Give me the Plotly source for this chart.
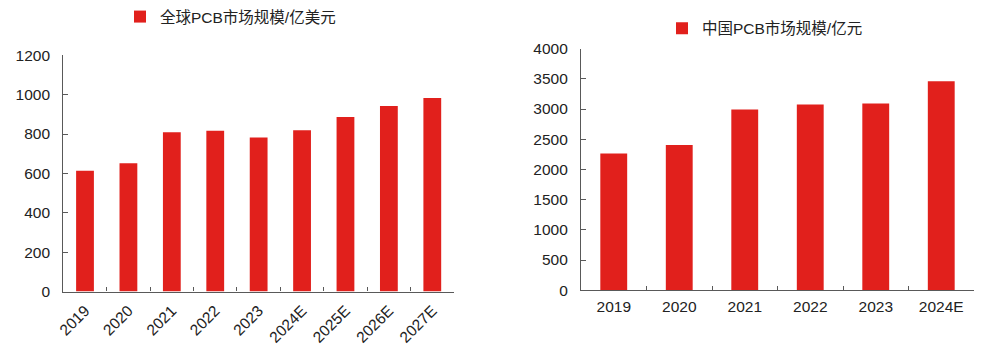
import plotly.graph_objects as go

# Global PCB market (100M USD)
global_years = ["2019", "2020", "2021", "2022", "2023", "2024E", "2025E", "2026E", "2027E"]
global_values = [613, 652, 809, 817, 783, 819, 886, 943, 983]
global_name = "全球PCB市场规模/亿美元"

# China PCB market (100M CNY)
china_years = ["2019", "2020", "2021", "2022", "2023", "2024E"]
china_values = [2263, 2405, 2993, 3074, 3091, 3461]
china_name = "中国PCB市场规模/亿元"

RED = "#E1201C"
AXIS = "#595959"
FONT = "Liberation Sans, Arial, Noto Sans CJK SC, sans-serif"
FS = 15.5

fig = go.Figure()
fig.add_trace(go.Bar(x=global_years, y=global_values, name=global_name,
                     marker=dict(color=RED, line=dict(width=0)), showlegend=True,
                     xaxis="x", yaxis="y", legend="legend"))
fig.add_trace(go.Bar(x=china_years, y=china_values, name=china_name,
                     marker=dict(color=RED, line=dict(width=0)), showlegend=True,
                     xaxis="x2", yaxis="y2", legend="legend2"))

W, H = 991, 353
def px(x):
    return x / W
def py(y):
    return 1 - y / H

common_x = dict(type="category", showline=True, linecolor=AXIS, linewidth=1.2,
                ticks="inside", tickson="boundaries", ticklen=4, tickcolor=AXIS,
                tickwidth=1, showgrid=False, zeroline=False, automargin=False,
                tickfont=dict(family=FONT, size=FS, color="#222"))
common_y = dict(showline=True, linecolor=AXIS, linewidth=1.2, ticks="inside",
                ticklen=5, tickcolor=AXIS, tickwidth=1, showgrid=False,
                zeroline=False, automargin=False,
                tickfont=dict(family=FONT, size=FS, color="#222"),
                ticklabelstandoff=9)

fig.update_layout(
    template="none",
    width=W, height=H,
    margin=dict(l=0, r=0, t=0, b=0),
    paper_bgcolor="white", plot_bgcolor="white",
    bargap=0.59,
    showlegend=True,
    font=dict(family=FONT, size=FS, color="#222"),
    xaxis=dict(domain=[px(63.3), px(454)], anchor="y", tickangle=-45,
               ticklabelstandoff=3, **common_x),
    yaxis=dict(domain=[py(290.7), py(51)], anchor="x", range=[0, 1200], dtick=200, **common_y),
    xaxis2=dict(domain=[px(581), px(974)], anchor="y2", tickangle=0,
                ticklabelstandoff=2, **common_x),
    yaxis2=dict(domain=[py(289.3), py(44.3)], anchor="x2", range=[0, 4000], dtick=500, **common_y),
    legend=dict(x=px(120), y=py(12), xanchor="left", yanchor="middle",
                orientation="h", font=dict(family=FONT, size=FS, color="#222"),
                bgcolor="rgba(0,0,0,0)", itemwidth=30),
    legend2=dict(x=px(662), y=py(24), xanchor="left", yanchor="middle",
                 orientation="h", font=dict(family=FONT, size=FS, color="#222"),
                 bgcolor="rgba(0,0,0,0)", itemwidth=30),
)

fig.write_html("out.html")
